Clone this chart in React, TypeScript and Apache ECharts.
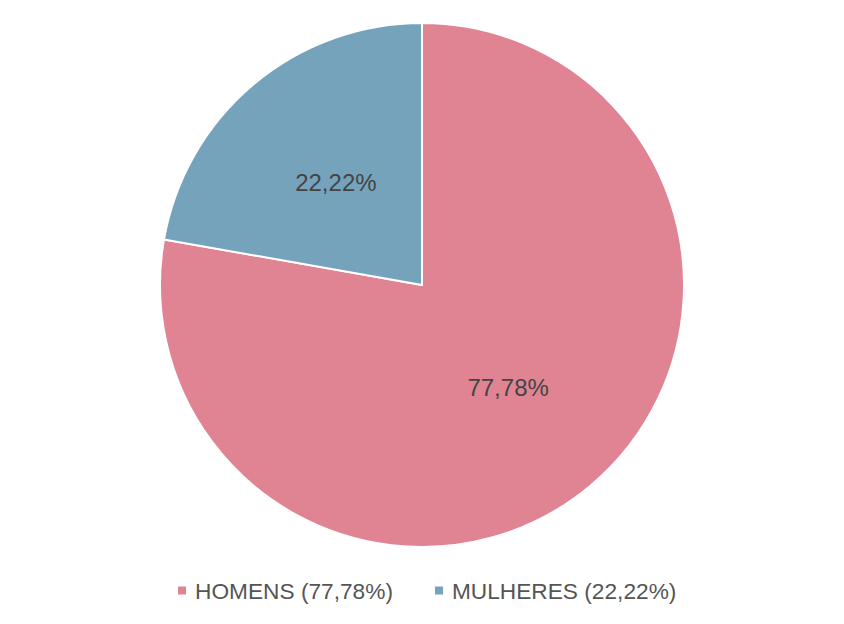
import React, { useEffect, useRef } from "react";
import * as echarts from "echarts";

const categories = ["HOMENS", "MULHERES"];
const values = [77.78, 22.22];
const colors = ["#E08393", "#76A3BC"];

export default function App() {
  const ref = useRef<HTMLDivElement>(null);
  useEffect(() => {
    document.body.style.margin = "0";
    const chart = echarts.init(ref.current!, null, { renderer: "svg" });
    const data = categories.map((c, i) => ({ name: c, value: values[i], itemStyle: { color: colors[i] } }));
    chart.setOption({
      animation: false,
      backgroundColor: "#ffffff",
      legend: {
        bottom: 22,
        left: 176,
        padding: 0,
        icon: "rect",
        itemWidth: 10,
        itemHeight: 10,
        itemGap: 40,
        textStyle: { fontFamily: "Liberation Sans", fontSize: 22.7, color: "#555555", padding: [0, 0, 0, 3] },
        formatter: (name: string) => {
          const i = categories.indexOf(name);
          return `${name} (${values[i].toFixed(2).replace(".", ",")}%)`;
        },
      },
      series: [
        {
          type: "pie",
          center: [422, 285],
          radius: [0, 262],
          startAngle: 90,
          clockwise: true,
          data,
          itemStyle: { borderColor: "#ffffff", borderWidth: 2 },
          label: {
            show: true,
            position: "inside",
            fontFamily: "Liberation Sans",
            fontSize: 24,
            color: "#444444",
            formatter: (p: any) => `${p.value.toFixed(2).replace(".", ",")}%`,
          },
          labelLine: { show: false },
          emphasis: { disabled: true },
        },
      ],
    });
    return () => chart.dispose();
  }, []);
  return <div ref={ref} style={{ width: 844, height: 624 }} />;
}
